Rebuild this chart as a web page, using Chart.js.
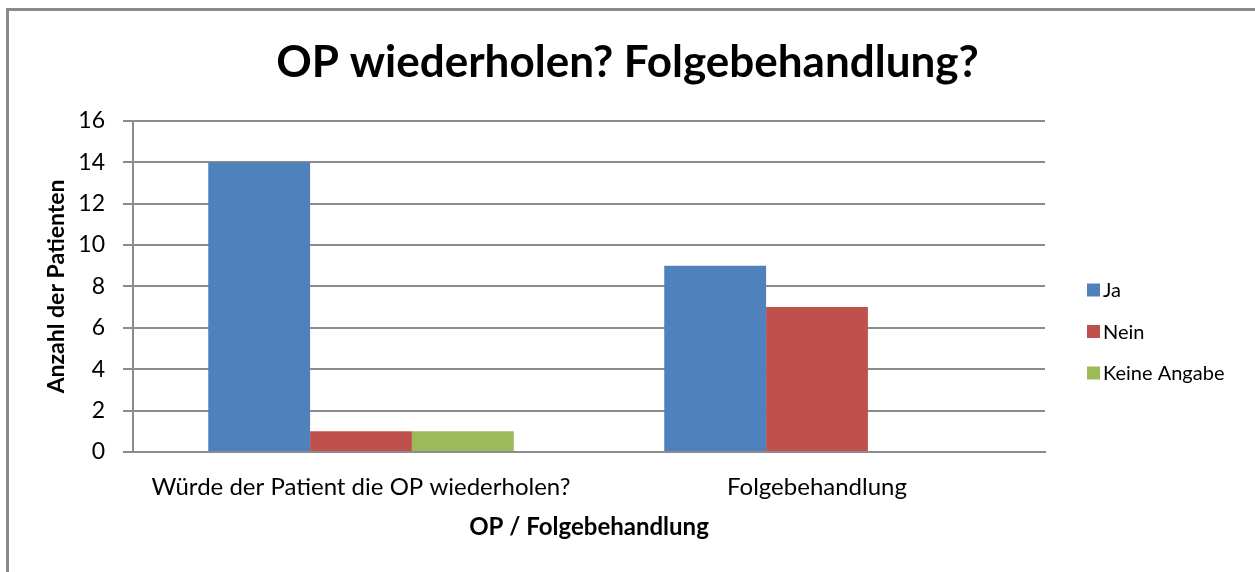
<!DOCTYPE html>
<html>
<head>
<meta charset="utf-8">
<script src="https://cdn.jsdelivr.net/npm/chart.js@4.4.0/dist/chart.umd.min.js"></script>
<style>
  html, body { margin: 0; padding: 0; background: #fff; }
  #wrap { position: relative; width: 1255px; height: 572px; overflow: hidden; }
  #frame { position: absolute; left: 6px; top: 8px; width: 1300px; height: 600px;
           border-left: 3px solid #8a8a8a; border-top: 3px solid #8a8a8a; pointer-events: none; }
  canvas { position: absolute; left: 0; top: 0; }
</style>
</head>
<body>
<div id="wrap">
  <canvas id="chart" width="1255" height="572"></canvas>
  <div id="frame"></div>
</div>
<script>
// Daten
const categories = ['Würde der Patient die OP wiederholen?', 'Folgebehandlung'];
const seriesNames = ['Ja', 'Nein', 'Keine Angabe'];
const jaValues = [14, 9];
const neinValues = [1, 7];
const keineAngabeValues = [1, 0];
const yTicks = [0, 2, 4, 6, 8, 10, 12, 14, 16];
const seriesColors = ['#4f81bd', '#c0504d', '#9bbb59'];

const FONT = 'Lato, "Open Sans", sans-serif';
const GRID = '#8c8c8c';

// Legende rechts neben dem Diagramm
const sideLegend = {
  id: 'sideLegend',
  afterDraw(chart) {
    const ctx = chart.ctx;
    const x = chart.chartArea.right + 42;
    ctx.save();
    ctx.font = '20px ' + FONT;
    ctx.textBaseline = 'middle';
    ctx.textAlign = 'left';
    chart.data.datasets.forEach((ds, i) => {
      const y = 290 + i * 41.5;
      ctx.fillStyle = ds.backgroundColor;
      ctx.fillRect(x, y - 6.5, 13, 13);
      ctx.fillStyle = '#000';
      ctx.fillText(ds.label, x + 16, y + 1);
    });
    ctx.restore();
  }
};

const ctx = document.getElementById('chart').getContext('2d');
new Chart(ctx, {
  type: 'bar',
  data: {
    labels: categories,
    datasets: [
      { label: seriesNames[0], data: jaValues, backgroundColor: seriesColors[0] },
      { label: seriesNames[1], data: neinValues, backgroundColor: seriesColors[1] },
      { label: seriesNames[2], data: keineAngabeValues, backgroundColor: seriesColors[2] }
    ]
  },
  options: {
    responsive: false,
    animation: false,
    datasets: {
      bar: { barPercentage: 1, categoryPercentage: 0.67, borderWidth: 0 }
    },
    layout: { padding: 0 },
    plugins: {
      legend: { display: false },
      tooltip: { enabled: false },
      title: {
        display: true,
        text: 'OP wiederholen? Folgebehandlung?',
        color: '#000',
        font: { family: FONT, size: 44, weight: 'bold' },
        padding: { top: 36, bottom: 32 }
      }
    },
    scales: {
      x: {
        grid: { display: false, drawTicks: false },
        border: { display: true, color: GRID, width: 2 },
        ticks: { color: '#000', padding: 21, font: { family: FONT, size: 24 } },
        title: {
          display: true,
          text: 'OP / Folgebehandlung',
          color: '#000',
          font: { family: FONT, size: 24, weight: 'bold' },
          padding: { top: 0, bottom: 30 }
        },
        afterFit(scale) { scale.height = 120; }
      },
      y: {
        min: 0,
        max: 16,
        afterBuildTicks(scale) { scale.ticks = yTicks.map(v => ({ value: v })); },
        grid: { color: GRID, lineWidth: 2, tickLength: 10, drawTicks: true },
        border: { display: true, color: GRID, width: 2 },
        ticks: { color: '#000', padding: 18, font: { family: FONT, size: 23 } },
        title: {
          display: true,
          text: 'Anzahl der Patienten',
          color: '#000',
          font: { family: FONT, size: 23, weight: 'bold' },
          padding: { top: 43, bottom: 0 }
        },
        afterFit(scale) { scale.width = 133; }
      },
      // Platz fuer die Legende
      legendSpace: {
        type: 'linear',
        position: 'right',
        grid: { display: false },
        border: { display: false },
        ticks: { display: false },
        afterFit(scale) { scale.width = 210; }
      }
    }
  },
  plugins: [sideLegend]
});
</script>
</body>
</html>
